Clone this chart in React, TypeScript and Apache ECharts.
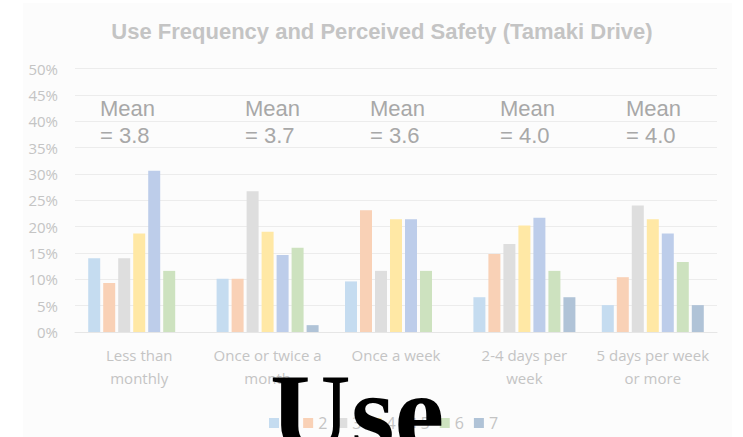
import React, { useEffect, useRef } from "react";
import * as echarts from "echarts";

const categories = [
  "Less than\nmonthly",
  "Once or twice a\nmonth",
  "Once a week",
  "2-4 days per\nweek",
  "5 days per week\nor more",
];
const seriesNames = ["1", "2", "3", "4", "5", "6", "7"];
const s1 = [14.0, 10.1, 9.6, 6.6, 5.1];
const s2 = [9.3, 10.1, 23.1, 14.8, 10.4];
const s3 = [14.0, 26.7, 11.6, 16.7, 24.0];
const s4 = [18.7, 19.0, 21.4, 20.2, 21.4];
const s5 = [30.6, 14.6, 21.4, 21.7, 18.7];
const s6 = [11.6, 16.0, 11.6, 11.6, 13.3];
const s7 = [0, 1.3, 0, 6.6, 5.1];
const meanLabels = ["Mean\n= 3.8", "Mean\n= 3.7", "Mean\n= 3.6", "Mean\n= 4.0", "Mean\n= 4.0"];
const yTicks = { min: 0, max: 50, interval: 5 };

const colors = ["#C5DCF0", "#F9D1B6", "#DEDEDE", "#FFE8A5", "#BDCDEA", "#CDE2BF", "#B0C3D7"];

export default function App() {
  const ref = useRef<HTMLDivElement>(null);
  useEffect(() => {
    if (!ref.current) return;
    const chart = echarts.init(ref.current, undefined, { renderer: "svg" });
    const all = [s1, s2, s3, s4, s5, s6, s7];
    const meanX = [100, 245, 370, 500, 626];
    chart.setOption({
      animation: false,
      backgroundColor: "#ffffff",
      color: colors,
      title: {
        text: "Use Frequency and Perceived Safety (Tamaki Drive)",
        left: 377,
        top: 15,
        textAlign: "center",
        textStyle: {
          fontFamily: "Liberation Sans",
          fontWeight: "bold",
          fontSize: 22,
          color: "#C4C4C4",
        },
      },
      grid: { left: 75, right: 26, top: 68.5, bottom: 105 },
      legend: {
        data: seriesNames,
        left: 264,
        top: 410,
        icon: "rect",
        itemWidth: 10,
        itemHeight: 10,
        itemGap: 10,
        textStyle: { fontFamily: "Open Sans", fontSize: 16, color: "#C4C4C4" },
      },
      xAxis: {
        type: "category",
        data: categories,
        axisLine: { show: true, lineStyle: { color: "#E6E6E6" } },
        axisTick: { show: false },
        axisLabel: {
          fontFamily: "Open Sans",
          fontSize: 15,
          color: "#C4C4C4",
          lineHeight: 23,
          margin: 11,
          interval: 0,
        },
      },
      yAxis: {
        type: "value",
        min: yTicks.min,
        max: yTicks.max,
        interval: yTicks.interval,
        axisLine: { show: false },
        axisTick: { show: false },
        splitLine: { lineStyle: { color: "#ECECEC" } },
        axisLabel: {
          formatter: "{value}%",
          fontFamily: "Open Sans",
          fontSize: 15,
          color: "#C4C4C4",
          margin: 17,
        },
      },
      series: seriesNames.map((n, i) => ({
        name: n,
        type: "bar",
        data: all[i],
        barWidth: 12,
        barGap: "25%",
        itemStyle: { color: colors[i] },
      })),
      graphic: [
        {
          type: "rect",
          silent: true,
          z: -10,
          shape: { x: 23, y: 3, width: 709, height: 440 },
          style: { fill: "#FCFCFC" },
        },
        ...meanLabels.map((t, i) => ({
          type: "text",
          x: meanX[i],
          y: 95,
          style: {
            text: t,
            fontFamily: "Liberation Sans",
            fontSize: 22,
            lineHeight: 27,
            fill: "#A8A8A8",
            verticalAlign: "top",
          },
        })),
        {
          type: "text",
          x: 270,
          y: 413,
          z: 100,
          style: {
            text: "Use",
            fontFamily: "Liberation Serif",
            fontWeight: "bold",
            fontSize: 112,
            fill: "#000000",
            verticalAlign: "middle",
          },
        },
      ],
    });
    return () => chart.dispose();
  }, []);
  return <div ref={ref} style={{ width: 743, height: 437, position: "absolute", left: 0, top: 0 }} />;
}
